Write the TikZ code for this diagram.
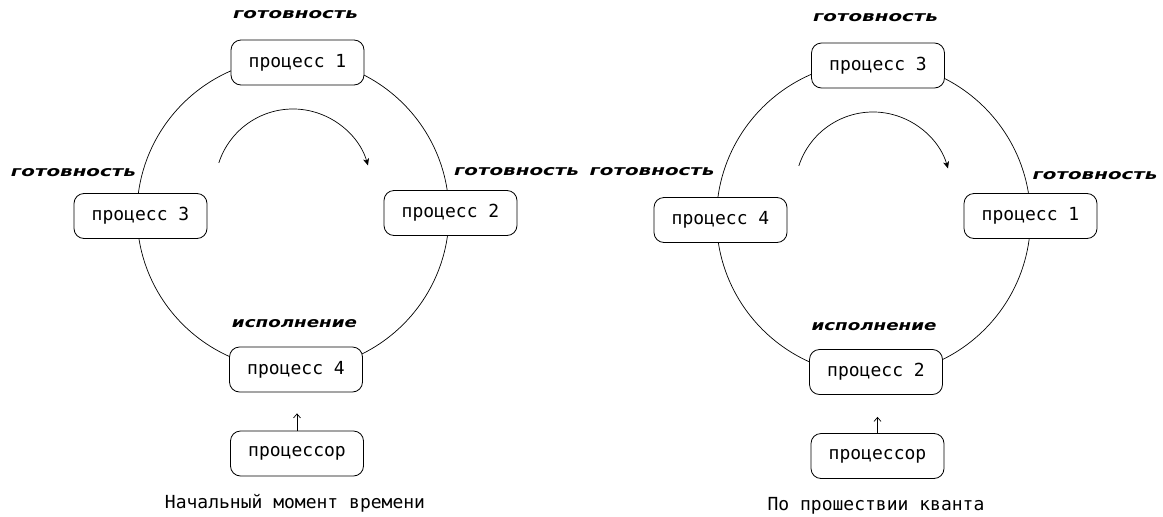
\documentclass[tikz,border=0pt]{standalone}
\usepackage{fontspec}
\usepackage{graphicx}
\setmonofont{DejaVu Sans Mono}
\newfontfamily\statefont{DejaVu Sans}
\usetikzlibrary{arrows.meta}
% state label: bold oblique, stretched to a fixed box
\newcommand{\statelabel}[1]{\resizebox{125pt}{8pt}{\statefont\bfseries\itshape #1}}

\begin{document}
\begin{tikzpicture}[x=1pt,y=-1pt,
  proc/.style={draw, line width=0.8pt, fill=white, rounded corners=10pt,
    minimum width=133pt, minimum height=45pt, inner sep=0pt,
    font=\ttfamily\fontsize{18}{20}\selectfont},
  ring/.style={draw, line width=0.7pt},
  state/.style={inner sep=0pt},
  caption/.style={inner sep=0pt, font=\ttfamily\fontsize{18}{20}\selectfont},
  turn/.style={line width=0.7pt, -{Stealth[length=7pt,width=6pt,inset=2pt]}},
  feed/.style={line width=0.7pt, -{Straight Barb[length=4pt,width=7pt]}}
]
\useasboundingbox (0,0) rectangle (1163,517);

% ---------- initial moment ----------
\coordinate (cL) at (293,214);
\coordinate (aL) at (293,187);
\draw[ring] (cL) circle[radius=156];
\draw[turn] ([shift={(198:78)}]aL) arc[start angle=198, end angle=344, radius=78];

\node[proc] (p1L) at (297.5,62.5) {процесс 1};
\node[proc] (p3L) at (140.5,216) {процесс 3};
\node[proc] (p2L) at (450.5,213) {процесс 2};
\node[proc] (p4L) at (296,369.5) {процесс 4};
\node[proc] (cpuL) at (297,453.5) {процессор};

\node[state] (s1L) at (295.5,15) {\statelabel{готовность}};
\node[state] (s3L) at (73.5,173) {\statelabel{готовность}};
\node[state] (s2L) at (516.5,172) {\statelabel{готовность}};
\node[state] (s4L) at (294.5,324) {\statelabel{исполнение}};

\draw[feed, shorten >=21pt] (cpuL.north) -- (cpuL.north |- p4L.south);
\node[caption] (capL) at (295,503) {Начальный момент времени};

% ---------- after one quantum ----------
\coordinate (cR) at (873.5,218.5);
\coordinate (aR) at (873,190);
\draw[ring] (cR) circle[radius=157];
\draw[turn] ([shift={(198:78)}]aR) arc[start angle=198, end angle=344, radius=78];

\node[proc] (p3R) at (878,65.5) {процесс 3};
\node[proc] (p4R) at (720.5,220) {процесс 4};
\node[proc] (p1R) at (1030.5,216) {процесс 1};
\node[proc] (p2R) at (876,372) {процесс 2};
\node[proc] (cpuR) at (877.5,456) {процессор};

\node[state] (s3R) at (875.5,18) {\statelabel{готовность}};
\node[state] (s4R) at (652,172) {\statelabel{готовность}};
\node[state] (s1R) at (1095,176) {\statelabel{готовность}};
\node[state] (s2R) at (874,327) {\statelabel{исполнение}};

\draw[feed, shorten >=22pt] (cpuR.north) -- (cpuR.north |- p2R.south);
\node[caption] (capR) at (876,506) {По прошествии кванта};
\end{tikzpicture}
\end{document}
